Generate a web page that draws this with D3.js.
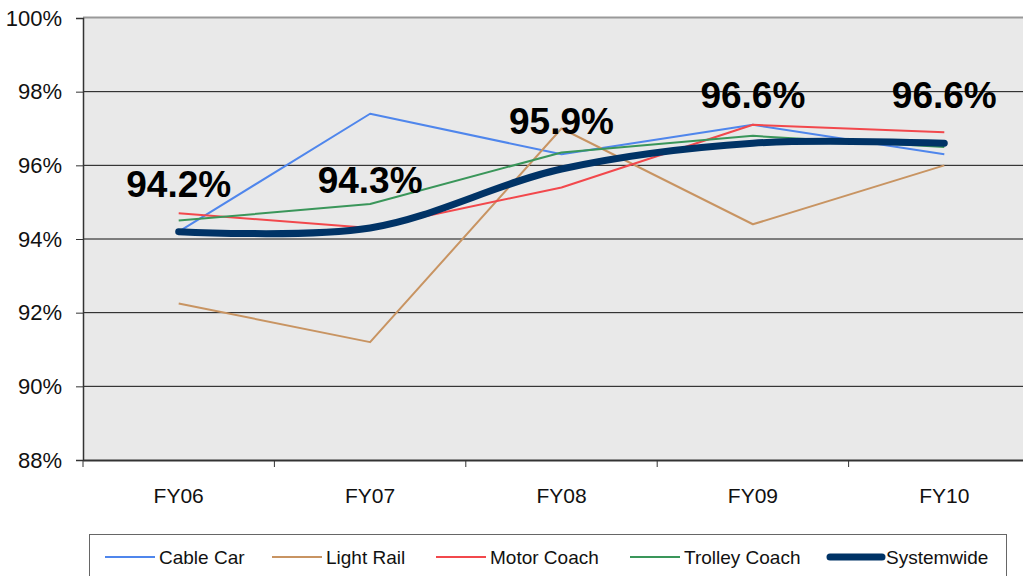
<!DOCTYPE html>
<html>
<head>
<meta charset="utf-8">
<script src="https://cdn.jsdelivr.net/npm/d3@7"></script>
<style>
  body { margin: 0; background: #fff; overflow: hidden; }
  text { font-family: "Liberation Sans", Arial, sans-serif; }
</style>
</head>
<body>
<script>
var years = ["FY06", "FY07", "FY08", "FY09", "FY10"]
var yTicks = [88, 90, 92, 94, 96, 98, 100]

var cableCar = [94.2, 97.4, 96.3, 97.1, 96.3]
var lightRail = [92.25, 91.2, 97.0, 94.4, 96.0]
var motorCoach = [94.7, 94.3, 95.4, 97.1, 96.9]
var trolleyCoach = [94.5, 94.95, 96.35, 96.8, 96.5]
var systemwide = [94.2, 94.3, 95.9, 96.6, 96.6]

var seriesNames = ["Cable Car", "Light Rail", "Motor Coach", "Trolley Coach", "Systemwide"]
var seriesValues = [cableCar, lightRail, motorCoach, trolleyCoach, systemwide]
var colors = ["#4f86ec", "#c89462", "#f2484c", "#3a965a", "#003366"]

var d = svg()

var margin = { left: 83, top: 18, right: 1040, bottom: 460 }

var x = d3.scaleBand().domain(years).range([margin.left, margin.right])
var y = d3.scaleLinear().domain([88, 100]).range([margin.bottom, margin.top])

// plot background
d.append("rect")
    .attr("x", margin.left).attr("y", margin.top)
    .attr("width", margin.right - margin.left)
    .attr("height", margin.bottom - margin.top)
    .attr("fill", "#e9e9e9")

// gridlines
d.append("g").selectAll("line")
    .data(yTicks.filter(function (t) { return t > 88 && t < 100 }))
    .join("line")
    .attr("x1", margin.left).attr("x2", margin.right)
    .attr("y1", function (t) { return y(t) }).attr("y2", function (t) { return y(t) })
    .attr("stroke", "#111").attr("stroke-width", 1)

// top border
d.append("line")
    .attr("x1", margin.left).attr("x2", margin.right)
    .attr("y1", margin.top - 0.5).attr("y2", margin.top - 0.5)
    .attr("stroke", "#999").attr("stroke-width", 2)

// y axis
var yAxis = d.append("g")
    .attr("transform", m({ x: margin.left, y: 0 }))
    .call(d3.axisLeft(y).tickValues(yTicks).tickSize(7).tickPadding(14)
        .tickFormat(function (t) { return t + "%" }))
yAxis.select(".domain").attr("stroke", "#333").attr("stroke-width", 1.5)
yAxis.selectAll(".tick line").attr("stroke", "#333")
yAxis.selectAll("text").attr("font-size", 22).attr("fill", "#111")
    .attr("font-family", "Liberation Sans, Arial, sans-serif")

// x axis
var xAxis = d.append("g")
    .attr("transform", m({ x: 0, y: margin.bottom }))
    .call(d3.axisBottom(x).tickSize(0).tickPadding(28))
xAxis.select(".domain").attr("stroke", "#333").attr("stroke-width", 2)
xAxis.selectAll("text").attr("font-size", 21).attr("fill", "#111")
    .attr("font-family", "Liberation Sans, Arial, sans-serif")

// x tick marks between categories
d.append("g").selectAll("line")
    .data(years)
    .join("line")
    .attr("x1", function (c) { return x(c) }).attr("x2", function (c) { return x(c) })
    .attr("y1", margin.bottom).attr("y2", margin.bottom + 7)
    .attr("stroke", "#333").attr("stroke-width", 1)

function cx(i) { return x(years[i]) + x.bandwidth() / 2 }

var straight = d3.line()
    .x(function (v, i) { return cx(i) })
    .y(function (v) { return y(v) })

var smooth = d3.line()
    .x(function (v, i) { return cx(i) })
    .y(function (v) { return y(v) })
    .curve(d3.curveCatmullRom.alpha(0.5))

seriesValues.forEach(function (vals, k) {
    var isSys = k === 4
    d.append("path")
        .attr("d", (isSys ? smooth : straight)(vals))
        .attr("fill", "none")
        .attr("stroke", colors[k])
        .attr("stroke-width", isSys ? 7 : 2)
        .attr("stroke-linecap", isSys ? "round" : "butt")
        .attr("stroke-linejoin", "round")
})

// systemwide value labels
d.append("g").selectAll("text")
    .data(systemwide)
    .join("text")
    .attr("x", function (v, i) { return cx(i) })
    .attr("y", function (v) { return y(v) - 35 })
    .attr("text-anchor", "middle")
    .attr("font-size", 37)
    .attr("font-weight", "bold")
    .attr("fill", "#000")
    .text(function (v) { return v.toFixed(1) + "%" })

// legend
var legend = d.append("g")
d.append("rect")
    .attr("x", 89.5).attr("y", 534.5)
    .attr("width", 917).attr("height", 60)
    .attr("fill", "#fff").attr("stroke", "#666").attr("stroke-width", 1)

var legendX = [105, 272, 436, 630, 830]
seriesNames.forEach(function (name, k) {
    var isSys = k === 4
    var g = d.append("g").attr("transform", m({ x: legendX[k], y: 557 }))
    g.append("line")
        .attr("x1", 0).attr("x2", isSys ? 52 : 50)
        .attr("y1", 0).attr("y2", 0)
        .attr("stroke", colors[k])
        .attr("stroke-width", isSys ? 7 : 2)
        .attr("stroke-linecap", isSys ? "round" : "butt")
    g.append("text")
        .attr("x", isSys ? 56 : 54)
        .attr("y", 7)
        .attr("font-size", 19)
        .attr("fill", "#111")
        .text(name)
})

function m(offset) {
    return `translate(${offset.x},${offset.y})`
}

function svg() {
    return d3.select("body")
        .append("svg")
        .attr("width", 1023)
        .attr("height", 576)
}
</script>
</body>
</html>
